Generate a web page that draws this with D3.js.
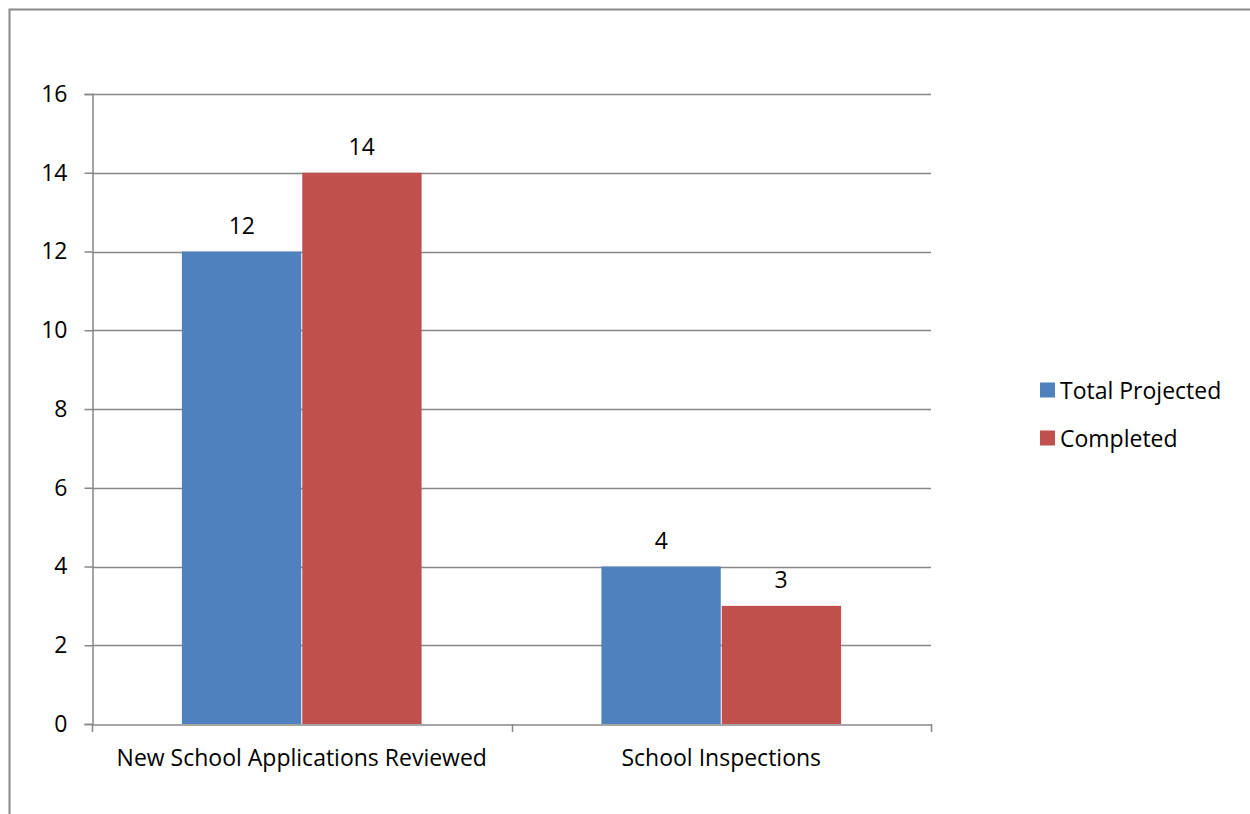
<!DOCTYPE html>
<html>
<head>
<meta charset="utf-8">
<script src="https://cdn.jsdelivr.net/npm/d3@7"></script>
<style>
  html, body { margin: 0; padding: 0; background: #fff; }
  svg { display: block; font-family: "Open Sans", Lato, sans-serif; }
</style>
</head>
<body>
<svg id="chart" width="1250" height="814"></svg>
<script>
// Chart data
const categories = ["New School Applications Reviewed", "School Inspections"];
const seriesNames = ["Total Projected", "Completed"];
const totalProjected = [12, 4];
const completed = [14, 3];
const yTicks = [0, 2, 4, 6, 8, 10, 12, 14, 16];

const seriesColors = ["#4F81BD", "#C0504D"];
const seriesValues = [totalProjected, completed];

const FONT = "'Open Sans', Lato, sans-serif";
const FONT_SIZE = 23;

const svg = d3.select("#chart");
const gridColor = "#878787";

// Outer frame
svg.append("rect")
  .attr("x", 9.5).attr("y", 9.5)
  .attr("width", 1260).attr("height", 830)
  .attr("fill", "none").attr("stroke", "#888").attr("stroke-width", 2);

const plot = { left: 92, right: 931, top: 94, bottom: 724 };

const x = d3.scaleBand()
  .domain(categories)
  .range([plot.left, plot.right])
  .paddingInner(0).paddingOuter(0);

const xSub = d3.scaleBand()
  .domain(seriesNames)
  .range([0, x.bandwidth()])
  .paddingOuter(0.75).paddingInner(0.0);

const y = d3.scaleLinear().domain([0, 16]).range([plot.bottom, plot.top]);

// Horizontal gridlines
svg.append("g")
  .selectAll("line")
  .data(yTicks.filter(d => d > 0))
  .join("line")
  .attr("x1", plot.left).attr("x2", plot.right)
  .attr("y1", d => Math.round(y(d)) + 0.5).attr("y2", d => Math.round(y(d)) + 0.5)
  .attr("stroke", gridColor).attr("stroke-width", 1.5);

// Bars
const groups = svg.append("g")
  .selectAll("g")
  .data(categories)
  .join("g")
  .attr("transform", d => `translate(${x(d)},0)`);

groups.selectAll("rect")
  .data((c, i) => seriesNames.map((s, j) => ({ s, v: seriesValues[j][i], j })))
  .join("rect")
  .attr("x", d => xSub(d.s) + (d.j === 1 ? 0.5 : 0))
  .attr("width", d => xSub.bandwidth() - 0.5)
  .attr("y", d => y(d.v))
  .attr("height", d => y(0) - y(d.v))
  .attr("fill", d => seriesColors[d.j]);

// Value labels
groups.selectAll("text")
  .data((c, i) => seriesNames.map((s, j) => ({ s, v: seriesValues[j][i], j })))
  .join("text")
  .attr("x", d => xSub(d.s) + xSub.bandwidth() / 2)
  .attr("y", d => y(d.v) - 27)
  .attr("text-anchor", "middle")
  .attr("dominant-baseline", "central")
  .attr("font-size", FONT_SIZE)
  .attr("font-family", FONT)
  .attr("fill", "#000")
  .text(d => d.v);

// Y axis
const yAxis = svg.append("g")
  .attr("transform", `translate(${plot.left + 0.5},0)`)
  .call(d3.axisLeft(y).tickValues(yTicks).tickSize(8).tickPadding(17));
yAxis.select(".domain").attr("stroke", gridColor).attr("stroke-width", 1.5);
yAxis.selectAll(".tick line").attr("stroke", gridColor).attr("stroke-width", 1.5);
yAxis.selectAll(".tick text").attr("font-size", FONT_SIZE).attr("fill", "#000")
  .attr("font-family", FONT);

// X axis
const xAxis = svg.append("g")
  .attr("transform", `translate(0,${plot.bottom + 0.5})`)
  .call(d3.axisBottom(x).tickSize(0).tickPadding(25));
xAxis.select(".domain").attr("stroke", gridColor).attr("stroke-width", 1.5);
xAxis.selectAll(".tick text").attr("font-size", FONT_SIZE).attr("fill", "#000")
  .attr("font-family", FONT);

// Category separator ticks
const edges = [plot.left, ...categories.map(c => x(c) + x.bandwidth())];
svg.append("g")
  .selectAll("line")
  .data(edges)
  .join("line")
  .attr("x1", d => Math.round(d) + 0.5).attr("x2", d => Math.round(d) + 0.5)
  .attr("y1", plot.bottom).attr("y2", plot.bottom + 8)
  .attr("stroke", gridColor).attr("stroke-width", 1.5);

// Legend
const legend = svg.append("g").attr("transform", "translate(1040,390)");
const items = legend.selectAll("g")
  .data(seriesNames)
  .join("g")
  .attr("transform", (d, i) => `translate(0,${i * 48})`);
items.append("rect")
  .attr("x", 0).attr("y", -7.5)
  .attr("width", 15).attr("height", 15)
  .attr("fill", (d, i) => seriesColors[i]);
items.append("text")
  .attr("x", 20).attr("y", 0)
  .attr("dominant-baseline", "central")
  .attr("font-size", FONT_SIZE)
  .attr("font-family", FONT)
  .attr("fill", "#000")
  .text(d => d);
</script>
</body>
</html>
